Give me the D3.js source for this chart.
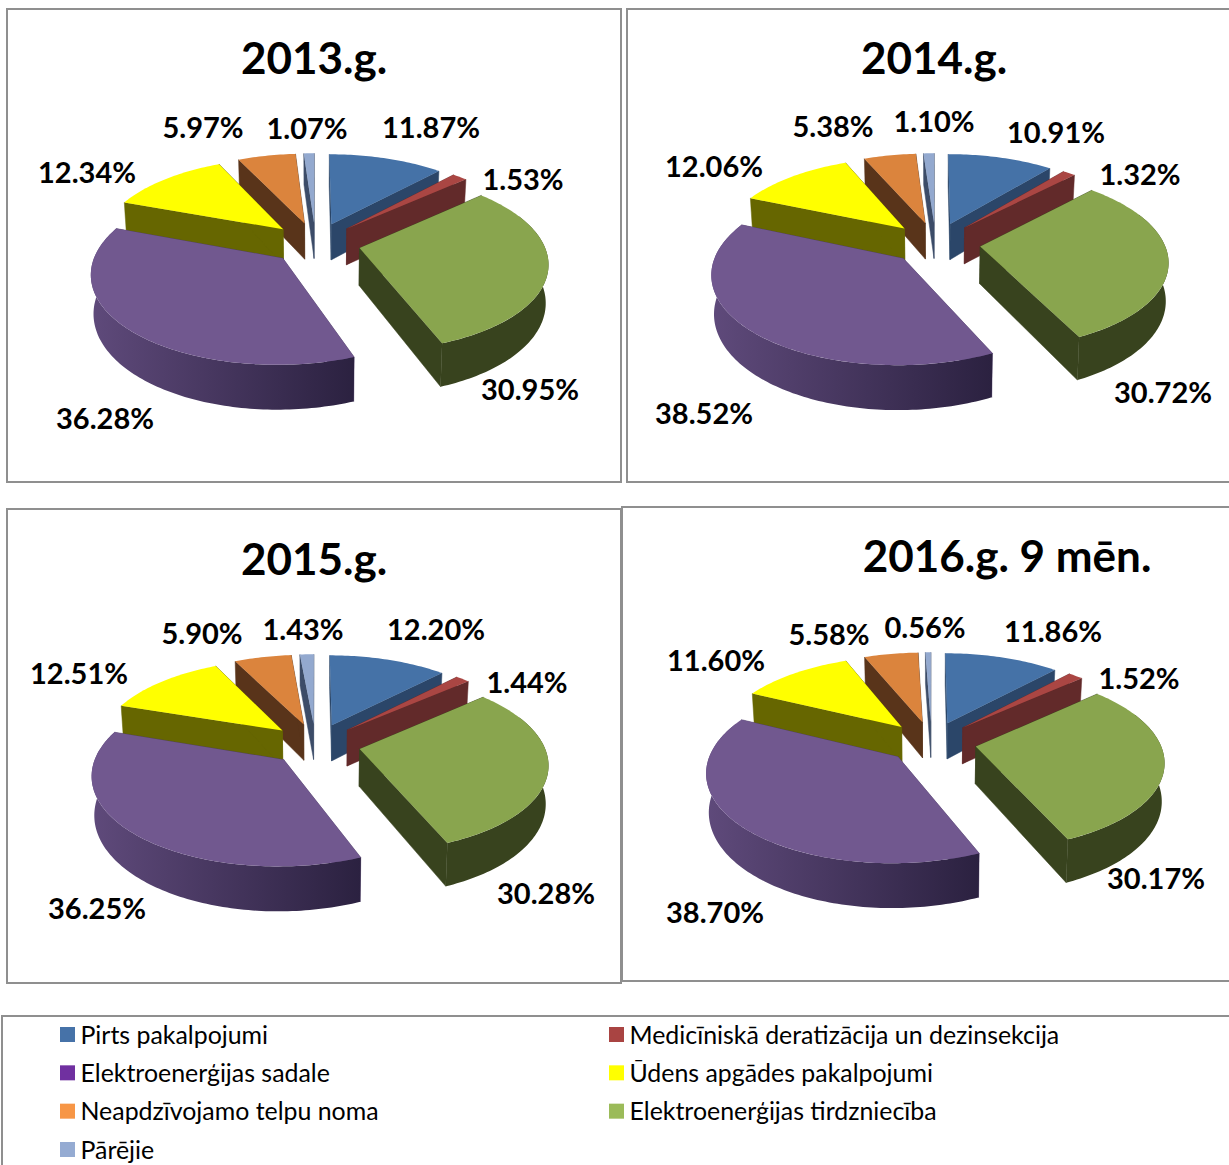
<!DOCTYPE html>
<html>
<head>
<meta charset="utf-8">
<script src="https://cdn.jsdelivr.net/npm/d3@7"></script>
<style>
  html, body { margin: 0; padding: 0; background: #fff; }
  svg { display: block; }
</style>
</head>
<body>
<div id="vis"></div>
<script>
// 3D exploded pies, projected by hand since d3 has no 3D pie

var width = 1229
var height = 1165

// data
var categories = ["Pirts pakalpojumi", "Medicīniskā deratizācija un dezinsekcija", "Elektroenerģijas tirdzniecība",
                  "Elektroenerģijas sadale", "Ūdens apgādes pakalpojumi", "Neapdzīvojamo telpu noma", "Pārējie"]
var titles = ["2013.g.", "2014.g.", "2015.g.", "2016.g. 9 mēn."]
var values2013 = [11.87, 1.53, 30.95, 36.28, 12.34, 5.97, 1.07]
var values2014 = [10.91, 1.32, 30.72, 38.52, 12.06, 5.38, 1.10]
var values2015 = [12.20, 1.44, 30.28, 36.25, 12.51, 5.90, 1.43]
var values2016 = [11.86, 1.52, 30.17, 38.70, 11.60, 5.58, 0.56]
var legendOrder = [0, 1, 3, 4, 5, 2, 6]

// colours
var topColors = ["#4572a7", "#aa4643", "#89a54e", "#71588f", "#ffff00", "#db843d", "#93a9cf"]
var sideColors = ["#2b4669", "#622a2a", "#38431e", "#5f4a7b", "#666600", "#59341a", "#3c4c68"]
var legendColors = ["#4672a8", "#a94442", "#9bbb59", "#7030a0", "#ffff00", "#f79646", "#95abd2"]

// layout of the four panels
var panels = [
  {x: 7, y: 9, w: 614, h: 473, cx: 315.5, cy: 243, titleX: 314, titleY: 59, values: values2013,
   labels: [[431,128],[523,180],[530,390],[105,419],[87,173],[203,128],[307,129]]},
  {x: 627, y: 9, w: 640, h: 473, cx: 935.5, cy: 243, titleX: 934, titleY: 59, values: values2014,
   labels: [[1056,133],[1140,175],[1163,393],[704,414],[714,167],[833,127],[934,122]]},
  {x: 7, y: 509, w: 614, h: 474, cx: 315.5, cy: 744, titleX: 314, titleY: 560, values: values2015,
   labels: [[436,630],[527,683],[546,894],[97,909],[79,674],[202,634],[303,630]]},
  {x: 622, y: 507, w: 640, h: 474, cx: 931.5, cy: 742, titleX: 1007, titleY: 557, values: values2016,
   labels: [[1053,632],[1139,679],[1156,879],[715,913],[716,661],[829,635],[925,628]]}
]

var radius = 184
var explode = 45
var tilt = 0.465       // vertical squash of the pie plane
var perspective = 0.15 // how much the back shrinks
var depth = 37
var narrow = 0.012     // walls lean in a little at the bottom
var wallExtra = 0.4    // wall runs a bit past the sides so the silhouette has no notch

var svg = d3.select("#vis").append("svg")
    .attr("width", width)
    .attr("height", height)

var defs = svg.append("defs")
var pie = d3.pie().sort(null).value(function(d) { return d })
var line = d3.line()

panels.forEach(draw_panel)
draw_legend()

function draw_panel(panel, n) {
  var g = svg.append("g")

  g.append("rect")
    .attr("x", panel.x).attr("y", panel.y)
    .attr("width", panel.w).attr("height", panel.h)
    .attr("fill", "#fff")
    .attr("stroke", "#8f8f8f")
    .attr("stroke-width", 2)

  g.append("text")
    .attr("x", panel.titleX).attr("y", panel.titleY)
    .attr("dy", ".35em")
    .attr("text-anchor", "middle")
    .style("font", "bold 44px Lato")
    .text(titles[n])

  // screen position of a point on the pie, z is distance below the top face
  function project(X, Y, z) {
    var p = 1 / (1 + perspective * Y / radius)
    return [panel.cx + X * p * (1 - narrow * z / depth), panel.cy - Y * tilt * p + z * p]
  }

  var gradId = "wall" + n
  var grad = defs.append("linearGradient").attr("id", gradId)
  grad.append("stop").attr("offset", 0).attr("stop-color", "#5f4a7b")
  grad.append("stop").attr("offset", 1).attr("stop-color", "#2b2140")

  var slices = pie(panel.values).map(function(d, i) {
    var mid = (d.startAngle + d.endAngle) / 2
    return {i: i, start: d.startAngle, end: d.endAngle, mid: mid,
            ex: explode * Math.sin(mid), ey: explode * Math.cos(mid)}
  })

  // back slices first so the front ones overlap them
  slices.sort(function(a, b) { return Math.cos(b.mid) - Math.cos(a.mid) })

  slices.forEach(function(s) {
    function rim(a, z) {
      return project(s.ex + radius * Math.sin(a), s.ey + radius * Math.cos(a), z)
    }
    function apex(z) { return project(s.ex, s.ey, z) }
    function arc_angles(a0, a1) {
      var steps = Math.max(2, Math.ceil((a1 - a0) / 0.02))
      return d3.range(steps + 1).map(function(k) { return a0 + (a1 - a0) * k / steps })
    }

    var sg = g.append("g")

    // cut faces
    ;[s.start, s.end].forEach(function(a) {
      var c = s.i == 3 ? "#4d3c66" : sideColors[s.i]
      sg.append("path")
        .attr("d", line([apex(0), rim(a, 0), rim(a, depth), apex(depth)]) + "Z")
        .attr("fill", c)
        .attr("stroke", c)
        .attr("stroke-width", 0.5)
    })

    // outer wall, only the part facing the viewer
    var a0 = Math.max(s.start, Math.PI / 2 - wallExtra)
    var a1 = Math.min(s.end, Math.PI * 1.5 + wallExtra)
    if (s.end > Math.PI / 2 && s.start < Math.PI * 1.5) {
      var angles = arc_angles(a0, a1)
      var wall = angles.map(function(a) { return rim(a, 0) })
        .concat(angles.slice().reverse().map(function(a) { return rim(a, depth) }))
      sg.append("path")
        .attr("d", line(wall) + "Z")
        .attr("fill", s.i == 3 ? "url(#" + gradId + ")" : sideColors[s.i])
    }

    // top face
    var face = [apex(0)].concat(arc_angles(s.start, s.end).map(function(a) { return rim(a, 0) }))
    sg.append("path")
      .attr("d", line(face) + "Z")
      .attr("fill", topColors[s.i])
  })

  g.selectAll(".label")
    .data(panel.values)
    .enter()
    .append("text")
    .attr("class", "label")
    .attr("x", function(d, i) { return panel.labels[i][0] })
    .attr("y", function(d, i) { return panel.labels[i][1] })
    .attr("dy", ".35em")
    .attr("text-anchor", "middle")
    .style("font", "bold 29px Lato")
    .text(function(d) { return d.toFixed(2) + "%" })
}

function draw_legend() {
  var g = svg.append("g")

  g.append("rect")
    .attr("x", 2).attr("y", 1016)
    .attr("width", 1260).attr("height", 170)
    .attr("fill", "#fff")
    .attr("stroke", "#8f8f8f")
    .attr("stroke-width", 2)

  var colX = d3.scaleOrdinal().domain([0, 1]).range([60, 609])
  var rowY = d3.scaleLinear().domain([0, 3]).range([1035, 1150])

  var item = g.selectAll(".item")
    .data(legendOrder)
    .enter()
    .append("g")
    .attr("transform", function(d, i) {
      return "translate(" + colX(i % 2) + "," + rowY(Math.floor(i / 2)) + ")"
    })

  item.append("rect")
    .attr("x", 0).attr("y", -8)
    .attr("width", 15).attr("height", 15)
    .attr("fill", function(d) { return legendColors[d] })

  item.append("text")
    .attr("x", 20.5)
    .attr("dy", ".35em")
    .style("font", "24.9px Lato")
    .text(function(d) { return categories[d] })
}
</script>
</body>
</html>
